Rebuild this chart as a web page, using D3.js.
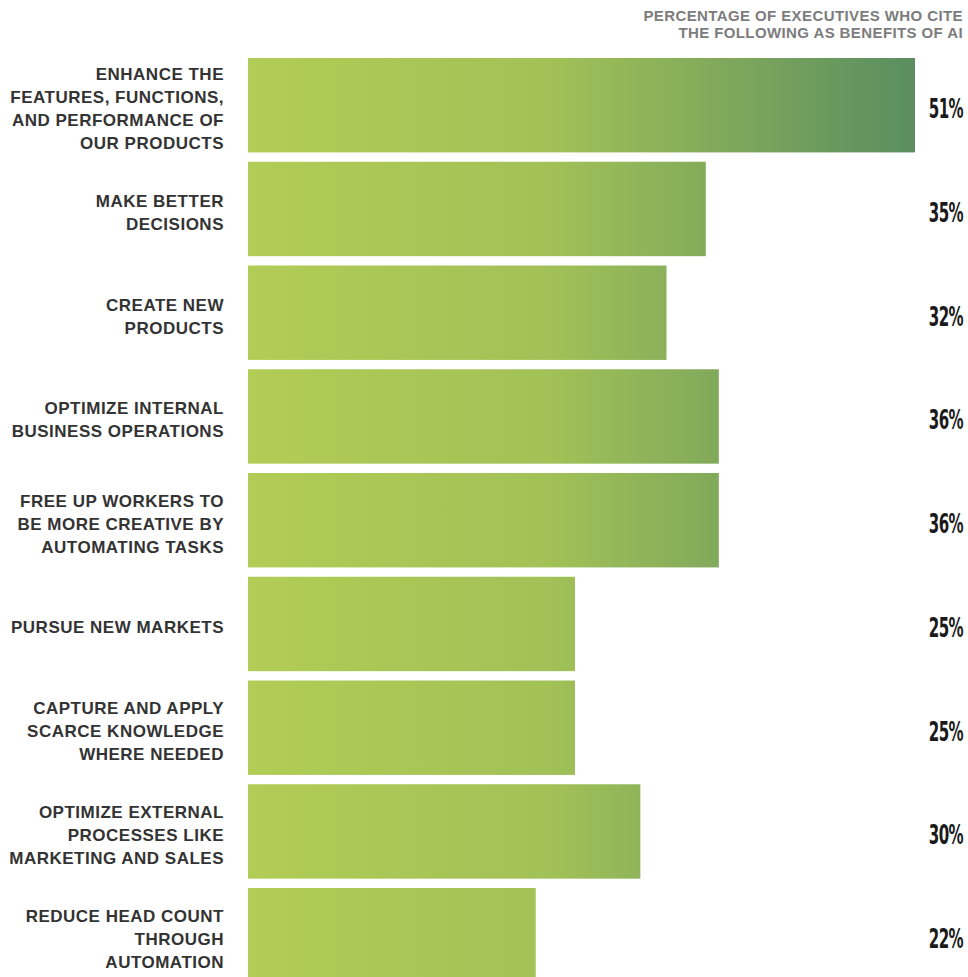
<!DOCTYPE html>
<meta charset="utf-8">
<head>
    <style>
        body {margin: 0; background: #fff;}
        .cat {font-family: "Liberation Sans", Arial, sans-serif; font-weight: bold; font-size: 17px; fill: #333; letter-spacing: 0.5px;}
        .val {font-family: "DejaVu Sans Condensed", "DejaVu Sans", sans-serif; font-weight: bold; font-size: 27px; fill: #1a1a1a; letter-spacing: -1px;}
        .title {font-family: "Liberation Sans", Arial, sans-serif; font-weight: bold; font-size: 15px; fill: #7c7c7c; letter-spacing: 0.4px;}
    </style>
    <script src="https://d3js.org/d3.v7.min.js"></script>
</head>
<body>
<script>
    var categories = [
        ["ENHANCE THE", "FEATURES, FUNCTIONS,", "AND PERFORMANCE OF", "OUR PRODUCTS"],
        ["MAKE BETTER", "DECISIONS"],
        ["CREATE NEW", "PRODUCTS"],
        ["OPTIMIZE INTERNAL", "BUSINESS OPERATIONS"],
        ["FREE UP WORKERS TO", "BE MORE CREATIVE BY", "AUTOMATING TASKS"],
        ["PURSUE NEW MARKETS"],
        ["CAPTURE AND APPLY", "SCARCE KNOWLEDGE", "WHERE NEEDED"],
        ["OPTIMIZE EXTERNAL", "PROCESSES LIKE", "MARKETING AND SALES"],
        ["REDUCE HEAD COUNT", "THROUGH", "AUTOMATION"]
    ];
    var values = [51, 35, 32, 36, 36, 25, 25, 30, 22];
    var titleLines = ["PERCENTAGE OF EXECUTIVES WHO CITE", "THE FOLLOWING AS BENEFITS OF AI"];

    var width = 968, height = 977;
    var step = 103.75, pad = 0.09;

    var svg = d3.select("body").append("svg")
        .attr("width", width)
        .attr("height", height);

    var x = d3.scaleLinear()
        .domain([0, 51])
        .range([248, 915]);

    var y = d3.scaleBand()
        .domain(d3.range(categories.length))
        .range([58, 58 + step * (categories.length - pad)])
        .paddingInner(pad)
        .paddingOuter(0);

    var grad = svg.append("defs").append("linearGradient")
        .attr("id", "barGrad")
        .attr("gradientUnits", "userSpaceOnUse")
        .attr("x1", x(0)).attr("x2", x(51))
        .attr("y1", 0).attr("y2", 0);
    grad.append("stop").attr("offset", "0%").attr("stop-color", "#b1cd56");
    grad.append("stop").attr("offset", "45%").attr("stop-color", "#a2c157");
    grad.append("stop").attr("offset", "100%").attr("stop-color", "#5a8e60");

    svg.selectAll(".title")
        .data(titleLines)
      .enter().append("text")
        .attr("class", "title")
        .attr("x", 963)
        .attr("y", function(d, i) {return 21 + i * 17})
        .attr("text-anchor", "end")
        .text(function(d) {return d});

    svg.selectAll("rect")
        .data(values)
      .enter().append("rect")
        .attr("x", x(0))
        .attr("y", function(d, i) {return y(i)})
        .attr("width", function(d) {return x(d) - x(0)})
        .attr("height", y.bandwidth())
        .attr("fill", "url(#barGrad)");

    // condensed look for the numbers
    svg.selectAll(".val")
        .data(values)
      .enter().append("text")
        .attr("class", "val")
        .attr("transform", function(d, i) {
            return "translate(963," + (y(i) + y.bandwidth() / 2 + 13) + ") scale(0.62,1)";
        })
        .attr("text-anchor", "end")
        .text(function(d) {return d + "%"});

    var lineH = 23;
    var cats = svg.selectAll(".cat")
        .data(categories)
      .enter().append("text")
        .attr("class", "cat")
        .attr("text-anchor", "end");

    cats.each(function(lines, i) {
        var mid = y(i) + y.bandwidth() / 2;
        var top = mid - (lines.length - 1) * lineH / 2 + 9.5;
        d3.select(this).selectAll("tspan")
            .data(lines)
          .enter().append("tspan")
            .attr("x", 224)
            .attr("y", function(d, j) {return top + j * lineH})
            .text(function(d) {return d});
    });
</script>
</body>
